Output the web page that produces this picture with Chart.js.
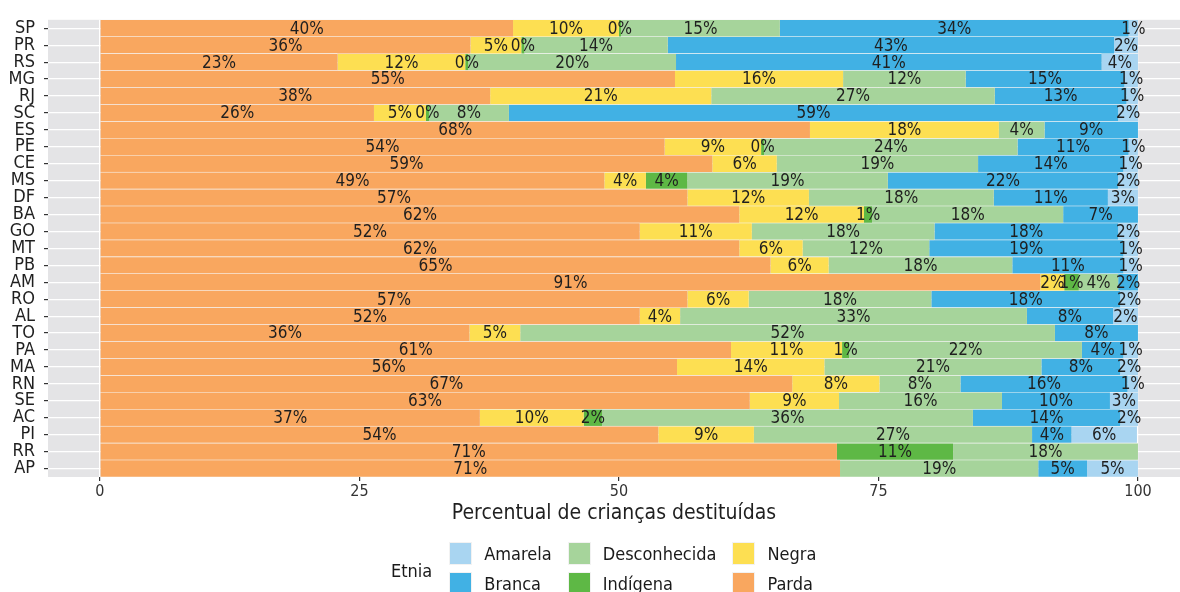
<!DOCTYPE html>
<html>
<head>
<meta charset="utf-8">
<script src="https://cdn.jsdelivr.net/npm/chart.js@4"></script>
<style>
  html, body { margin: 0; padding: 0; background: #fff; }
  #wrap { position: relative; width: 1180px; height: 592px; overflow: hidden; }
  #legend {
    position: absolute; left: 391px; top: 538px;
    display: flex; align-items: center;
    font-family: "DejaVu Sans Condensed", "DejaVu Sans", sans-serif;
    font-size: 18px; color: #1a1a1a;
  }
  #legend .title { margin-right: 17px; margin-top: 4px; }
  #legend .keys {
    display: grid; grid-auto-flow: column;
    grid-template-rows: repeat(2, 30px); column-gap: 16px;
  }
  #legend .item { display: flex; align-items: center; }
  #legend .box {
    width: 21px; height: 21px; border: 1px solid #f2f2f2; margin-right: 12px;
  }
</style>
</head>
<body>
<div id="wrap">
  <canvas id="chart" width="1180" height="592"></canvas>
  <div id="legend"><div class="title">Etnia</div><div class="keys"></div></div>
</div>
<script>
// States, top to bottom as in the picture
const STATES = ["SP", "PR", "RS", "MG", "RJ", "SC", "ES", "PE", "CE", "MS", "DF", "BA", "GO", "MT",
  "PB", "AM", "RO", "AL", "TO", "PA", "MA", "RN", "SE", "AC", "PI", "RR", "AP"]

// Percent of children per ethnicity (null = category absent for that state)
const PARDA = [39.8, 35.7, 22.9, 55.4, 37.6, 26.4, 68.4, 54.4, 59.0, 48.6, 56.6, 61.6, 52.0, 61.6,
  64.6, 90.6, 56.6, 52.0, 35.6, 60.8, 55.6, 66.7, 62.6, 36.6, 53.8, 71.0, 71.3]
const NEGRA = [10.2, 4.9, 12.3, 16.2, 21.3, 5.0, 18.2, 9.3, 6.2, 4.0, 11.7, 12.0, 10.8, 6.1,
  5.6, 2.3, 5.9, 3.9, 4.9, 10.7, 14.2, 8.4, 8.6, 10.0, 9.2, null, null]
const INDIGENA = [0.2, 0.3, 0.3, null, null, 0.3, null, 0.3, null, 4.0, null, 0.8, null, null,
  null, 1.4, null, null, null, 0.7, null, null, null, 1.8, null, 11.2, null]
const DESCONHECIDA = [15.3, 13.8, 20.0, 11.8, 27.3, 7.7, 4.4, 24.4, 19.4, 19.3, 17.8, 18.4, 17.6, 12.2,
  17.7, 3.8, 17.6, 33.4, 51.5, 22.4, 20.9, 7.8, 15.7, 35.7, 26.8, 17.8, 19.1]
const BRANCA = [33.6, 43.0, 41.0, 15.3, 12.7, 58.7, 9.0, 10.7, 14.0, 22.2, 11.0, 7.2, 17.7, 18.7,
  10.7, 1.9, 18.2, 8.3, 8.0, 4.0, 7.6, 16.1, 10.4, 14.2, 3.8, null, 4.7]
const AMARELA = [0.9, 2.3, 3.5, 1.3, 1.1, 1.9, null, 0.9, 1.4, 1.9, 2.9, null, 1.9, 1.4,
  1.4, null, 1.7, 2.4, null, 1.4, 1.7, 1.0, 2.7, 1.7, 6.3, null, 4.9]

const X_TICKS = [0, 12.5, 25, 37.5, 50, 62.5, 75, 87.5, 100]
const MAJOR_TICKS = [0, 25, 50, 75, 100]

// Stack order (left to right) and legend order (alphabetical)
const SERIES = [
  { name: "Parda", data: PARDA, color: "#f9a75f" },
  { name: "Negra", data: NEGRA, color: "#fddf52" },
  { name: "Indígena", data: INDIGENA, color: "#5eb845" },
  { name: "Desconhecida", data: DESCONHECIDA, color: "#a6d49b" },
  { name: "Branca", data: BRANCA, color: "#41b1e4" },
  { name: "Amarela", data: AMARELA, color: "#a9d5f1" }
]
const LEGEND_ORDER = ["Amarela", "Branca", "Desconhecida", "Indígena", "Negra", "Parda"]

const FONT = "'DejaVu Sans Condensed', 'DejaVu Sans', sans-serif"
const PANEL_BG = "#e4e4e6"
const TEXT_COLOR = "#1f1f1f"
const TICK_COLOR = "#333"

const panelPlugin = {
  id: "panel",
  beforeDraw(chart) {
    const { ctx, chartArea: a } = chart
    ctx.save()
    ctx.fillStyle = PANEL_BG
    ctx.fillRect(a.left, a.top, a.right - a.left, a.bottom - a.top)
    ctx.restore()
  }
}

// Percent labels centred in each segment
const segmentLabels = {
  id: "segmentLabels",
  afterDatasetsDraw(chart) {
    const { ctx } = chart
    ctx.save()
    ctx.font = "17px " + FONT
    ctx.fillStyle = TEXT_COLOR
    ctx.textAlign = "center"
    ctx.textBaseline = "middle"
    chart.data.datasets.forEach((ds, di) => {
      chart.getDatasetMeta(di).data.forEach((bar, i) => {
        const v = ds.data[i]
        if (v == null) return
        ctx.fillText(Math.round(v) + "%", (bar.x + bar.base) / 2, bar.y + 1)
      })
    })
    ctx.restore()
  }
}

new Chart(document.getElementById("chart"), {
  type: "bar",
  plugins: [panelPlugin, segmentLabels],
  data: {
    labels: STATES,
    datasets: SERIES.map((s) => ({
      label: s.name,
      data: s.data,
      backgroundColor: s.color,
      borderColor: "#f6f6f6",
      borderWidth: { top: 0.6, bottom: 0.6, left: 0, right: 0 },
      borderSkipped: false,
      barPercentage: 1,
      categoryPercentage: 1
    }))
  },
  options: {
    indexAxis: "y",
    responsive: false,
    animation: false,
    layout: { padding: { top: 10, left: 0, right: 0, bottom: 0 } },
    plugins: { legend: { display: false }, tooltip: { enabled: false } },
    scales: {
      x: {
        stacked: true,
        min: -5,
        max: 104.05,
        afterBuildTicks: (axis) => { axis.ticks = X_TICKS.map((v) => ({ value: v })) },
        afterFit: (scale) => { scale.height = 115 },
        border: { display: false },
        grid: {
          color: "#fff",
          lineWidth: (c) => (MAJOR_TICKS.includes(c.tick && c.tick.value) ? 1.2 : 0.6),
          tickColor: (c) => (MAJOR_TICKS.includes(c.tick && c.tick.value) ? TICK_COLOR : "rgba(0,0,0,0)"),
          tickWidth: 1.2,
          tickLength: 4
        },
        ticks: {
          autoSkip: false,
          maxRotation: 0,
          padding: 1,
          color: TICK_COLOR,
          font: { family: FONT, size: 16 },
          callback: (v) => (MAJOR_TICKS.includes(v) ? v : "")
        },
        title: {
          display: true,
          text: "Percentual de crianças destituídas",
          color: TEXT_COLOR,
          font: { family: FONT, size: 21 },
          padding: { top: 0, bottom: 66 }
        }
      },
      y: {
        stacked: true,
        afterFit: (scale) => { scale.width = 48 },
        border: { display: false },
        grid: {
          color: "#fff",
          lineWidth: 1.2,
          offset: false,
          tickColor: TICK_COLOR,
          tickWidth: 1.2,
          tickLength: 4
        },
        ticks: {
          autoSkip: false,
          padding: 9,
          color: TEXT_COLOR,
          font: { family: FONT, size: 18 }
        }
      }
    }
  }
})

// Legend (two rows, column-major, as in the picture)
const keys = document.querySelector("#legend .keys")
LEGEND_ORDER.forEach((name) => {
  const s = SERIES.find((x) => x.name === name)
  const item = document.createElement("div")
  item.className = "item"
  const box = document.createElement("div")
  box.className = "box"
  box.style.background = s.color
  const label = document.createElement("span")
  label.textContent = s.name
  item.appendChild(box)
  item.appendChild(label)
  keys.appendChild(item)
})
</script>
</body>
</html>
